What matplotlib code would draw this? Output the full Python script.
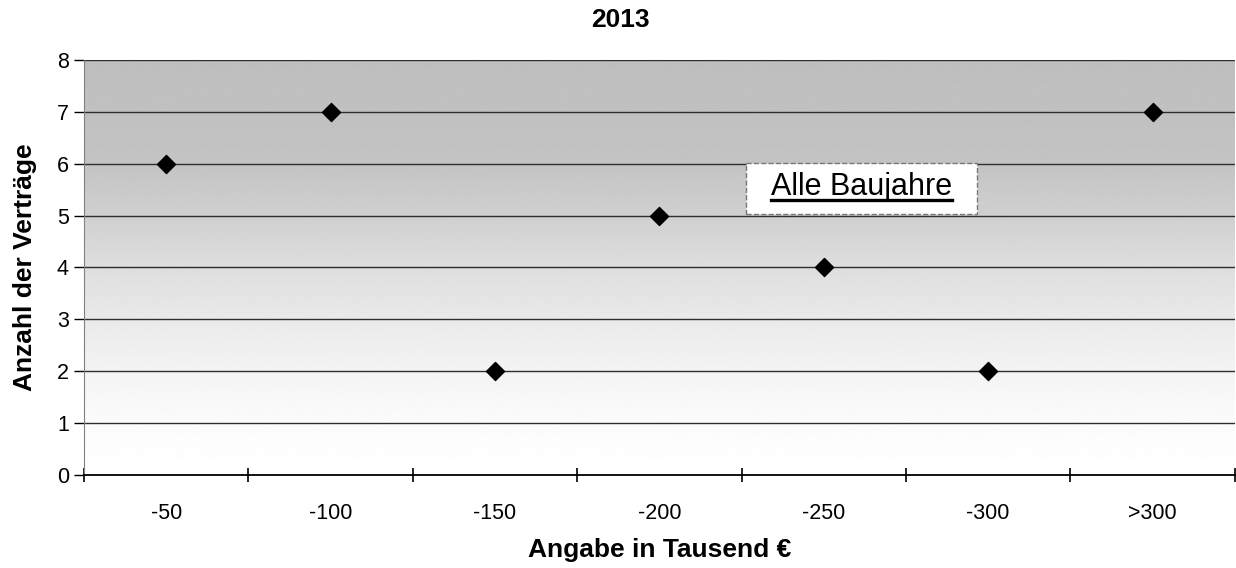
import matplotlib.pyplot as plt
import numpy as np
from matplotlib.lines import Line2D
from matplotlib.patches import Rectangle

plt.rcParams['font.family'] = ['Liberation Sans', 'DejaVu Sans']

categories = ["-50", "-100", "-150", "-200", "-250", "-300", ">300"]
contracts = [6, 7, 2, 5, 4, 2, 7]

fig = plt.figure(figsize=(12.36, 5.68), dpi=100)
ax = fig.add_axes([0.068, 0.1637, 0.931, 0.7307])

x = np.arange(len(categories))
ax.set_xlim(-0.5, len(categories) - 0.5)
ax.set_ylim(0, 8)

# grey-to-white background, flat at the top and fading towards the bottom
stops_y = [0, 1, 2, 3, 4, 5, 6, 8]
stops_v = [1.0, 0.985, 0.955, 0.915, 0.87, 0.815, 0.765, 0.745]
yy = np.linspace(0, 8, 400)
shade = np.interp(yy, stops_y, stops_v)[:, None]
ax.imshow(shade, cmap='gray', vmin=0, vmax=1, aspect='auto', origin='lower',
          extent=(-0.5, len(categories) - 0.5, 0, 8), zorder=0, interpolation='bilinear')

for yv in range(1, 9):
    ax.axhline(yv, color='#2e2e2e', lw=1.0, zorder=1)

ax.scatter(x, contracts, marker='D', s=85, color='black', zorder=3)

ax.set_xticks(x)
ax.set_xticklabels(categories, fontsize=15.5)
ax.set_xticks(np.arange(-0.5, len(categories)), minor=True)
ax.tick_params(axis='x', which='major', length=0, pad=20)
ax.tick_params(axis='x', which='minor', direction='inout', length=10, width=1.2)
ax.set_yticks(range(0, 9))
ax.tick_params(axis='y', labelsize=15.5, length=7, width=1.0, pad=4)

for side in ('top', 'right'):
    ax.spines[side].set_visible(False)
ax.spines['left'].set_color('#808080')
ax.spines['bottom'].set_linewidth(1.3)

fig.text(0.502, 0.965, "2013", fontsize=19, fontweight='bold', ha='center', va='center')
ax.set_xlabel("Angabe in Tausend €", fontsize=19, fontweight='bold', labelpad=10)
ax.set_ylabel("Anzahl der Verträge", fontsize=19, fontweight='bold', labelpad=14)

# annotation box with underlined text
ax.add_patch(Rectangle((0.575, 0.629), 0.201, 0.123, transform=ax.transAxes,
                       facecolor='white', edgecolor='#777777', linestyle='--',
                       linewidth=1.0, zorder=4))
note = ax.text(0.6755, 0.693, "Alle Baujahre", fontsize=22, ha='center', va='center',
               transform=ax.transAxes, zorder=5)
fig.canvas.draw()
bb = note.get_window_extent(renderer=fig.canvas.get_renderer())
inv = fig.transFigure.inverted()
(x0, y0), (x1, _) = inv.transform([(bb.x0, bb.y0 + 2), (bb.x1, bb.y0)])
fig.add_artist(Line2D([x0, x1], [y0, y0], color='black', lw=2.4, zorder=6))

fig.savefig("out.png", dpi=100)
